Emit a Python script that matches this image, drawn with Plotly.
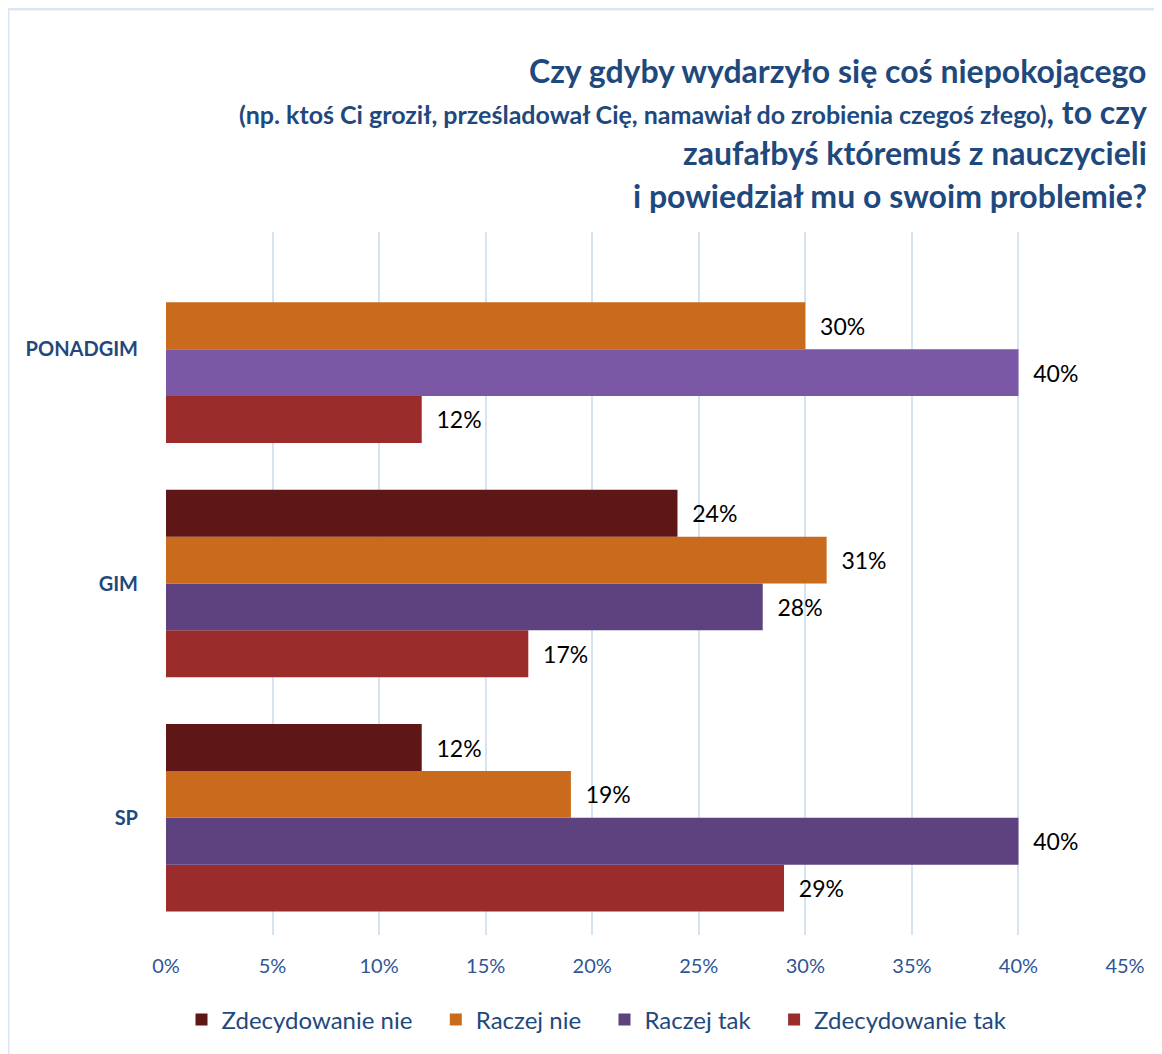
import plotly.graph_objects as go

categories = ["SP", "GIM", "PONADGIM"]
series_names = ["Zdecydowanie nie", "Raczej nie", "Raczej tak", "Zdecydowanie tak"]
zdecydowanie_nie = [12, 24, None]
raczej_nie = [19, 31, 30]
raczej_tak = [40, 28, 40]
zdecydowanie_tak = [29, 17, 12]
x_ticks = [0, 5, 10, 15, 20, 25, 30, 35, 40, 45]
x_tick_labels = [f"{v}%" for v in x_ticks]

colors = {
    "Zdecydowanie nie": "#5E1616",
    "Raczej nie": "#C96A1C",
    "Raczej tak": ["#5E417F", "#5E417F", "#7B58A6"],
    "Zdecydowanie tak": "#9A2C2C",
}
values = {
    "Zdecydowanie nie": zdecydowanie_nie,
    "Raczej nie": raczej_nie,
    "Raczej tak": raczej_tak,
    "Zdecydowanie tak": zdecydowanie_tak,
}

W, H = 1162, 1054
OFF = 8  # page body offset
# desired screen positions of plot area
SL, SR, ST, SB = 166, 1125, 232, 935
L = SL - OFF
T = ST - OFF
R = W - (SR - OFF)
B = H - (SB - OFF)
plot_w = SR - SL
plot_h = SB - ST

def px_x(x):
    return (x - SL) / plot_w

def px_y(y):
    return (SB - y) / plot_h

font_fam = "Lato, 'Open Sans', sans-serif"

fig = go.Figure()
for name in reversed(series_names):
    vals = values[name]
    legend_name = name if name == series_names[-1] else name + "\u00a0\u00a0\u00a0"
    fig.add_trace(go.Bar(
        name=legend_name,
        y=categories,
        x=vals,
        orientation="h",
        marker=dict(color=colors[name], line=dict(width=0)),
        text=[("  " + f"{v}%") if v is not None else "" for v in vals],
        textposition="outside",
        cliponaxis=False,
        textfont=dict(family=font_fam, size=23, color="#000000"),
        hoverinfo="skip",
    ))

title_color = "#1F497D"
title_x = px_x(1149)
annotations = [
    dict(text="<b>Czy gdyby wydarzyło się coś niepokojącego</b>", x=title_x, y=px_y(70),
         font=dict(size=32, color=title_color, family=font_fam)),
    dict(text="<b><span style='font-size:25px'>(np. ktoś Ci groził, prześladował Cię, namawiał do zrobienia czegoś złego)</span>, to czy</b>",
         x=title_x, y=px_y(112), font=dict(size=32, color=title_color, family=font_fam)),
    dict(text="<b>zaufałbyś któremuś z nauczycieli</b>", x=title_x, y=px_y(153),
         font=dict(size=32, color=title_color, family=font_fam)),
    dict(text="<b>i powiedział mu o swoim problemie?</b>", x=title_x, y=px_y(195),
         font=dict(size=32, color=title_color, family=font_fam)),
]
for a in annotations:
    a.update(xref="paper", yref="paper", xanchor="right", yanchor="middle", showarrow=False, align="right")

fig.update_layout(
    width=W, height=H,
    margin=dict(l=L, r=R, t=T, b=B),
    paper_bgcolor="white",
    plot_bgcolor="white",
    barmode="group",
    bargap=0.2,
    bargroupgap=0,
    font=dict(family=font_fam, color=title_color),
    annotations=annotations,
    showlegend=True,
    legend=dict(
        orientation="h",
        traceorder="reversed",
        x=px_x(597), xanchor="center",
        y=px_y(1020), yanchor="middle",
        font=dict(size=24, color=title_color, family=font_fam),
        itemwidth=30,
        bgcolor="rgba(0,0,0,0)",
    ),
    xaxis=dict(
        range=[0, 45],
        tickvals=x_ticks,
        ticktext=x_tick_labels,
        showgrid=True,
        gridcolor="#D6E3F3",
        gridwidth=2,
        zeroline=False,
        showline=False,
        ticks="",
        tickfont=dict(size=20, color="#2F5597", family=font_fam),
        ticklabelstandoff=17,
    ),
    yaxis=dict(
        categoryorder="array",
        categoryarray=categories,
        range=[-0.5, 2.5],
        showgrid=False,
        zeroline=False,
        showline=False,
        ticks="",
        ticklabelstandoff=27,
        tickfont=dict(size=20, color=title_color, family=font_fam, weight="bold"),
    ),
    shapes=[
        dict(type="line", xref="paper", yref="paper", x0=px_x(8), x1=px_x(1170),
             y0=px_y(9), y1=px_y(9), line=dict(color="#DCE6F2", width=3)),
        dict(type="line", xref="paper", yref="paper", x0=px_x(8), x1=px_x(8),
             y0=px_y(9), y1=px_y(1070), line=dict(color="#DCE6F2", width=3)),
    ],
)

fig.write_html("out.html")
